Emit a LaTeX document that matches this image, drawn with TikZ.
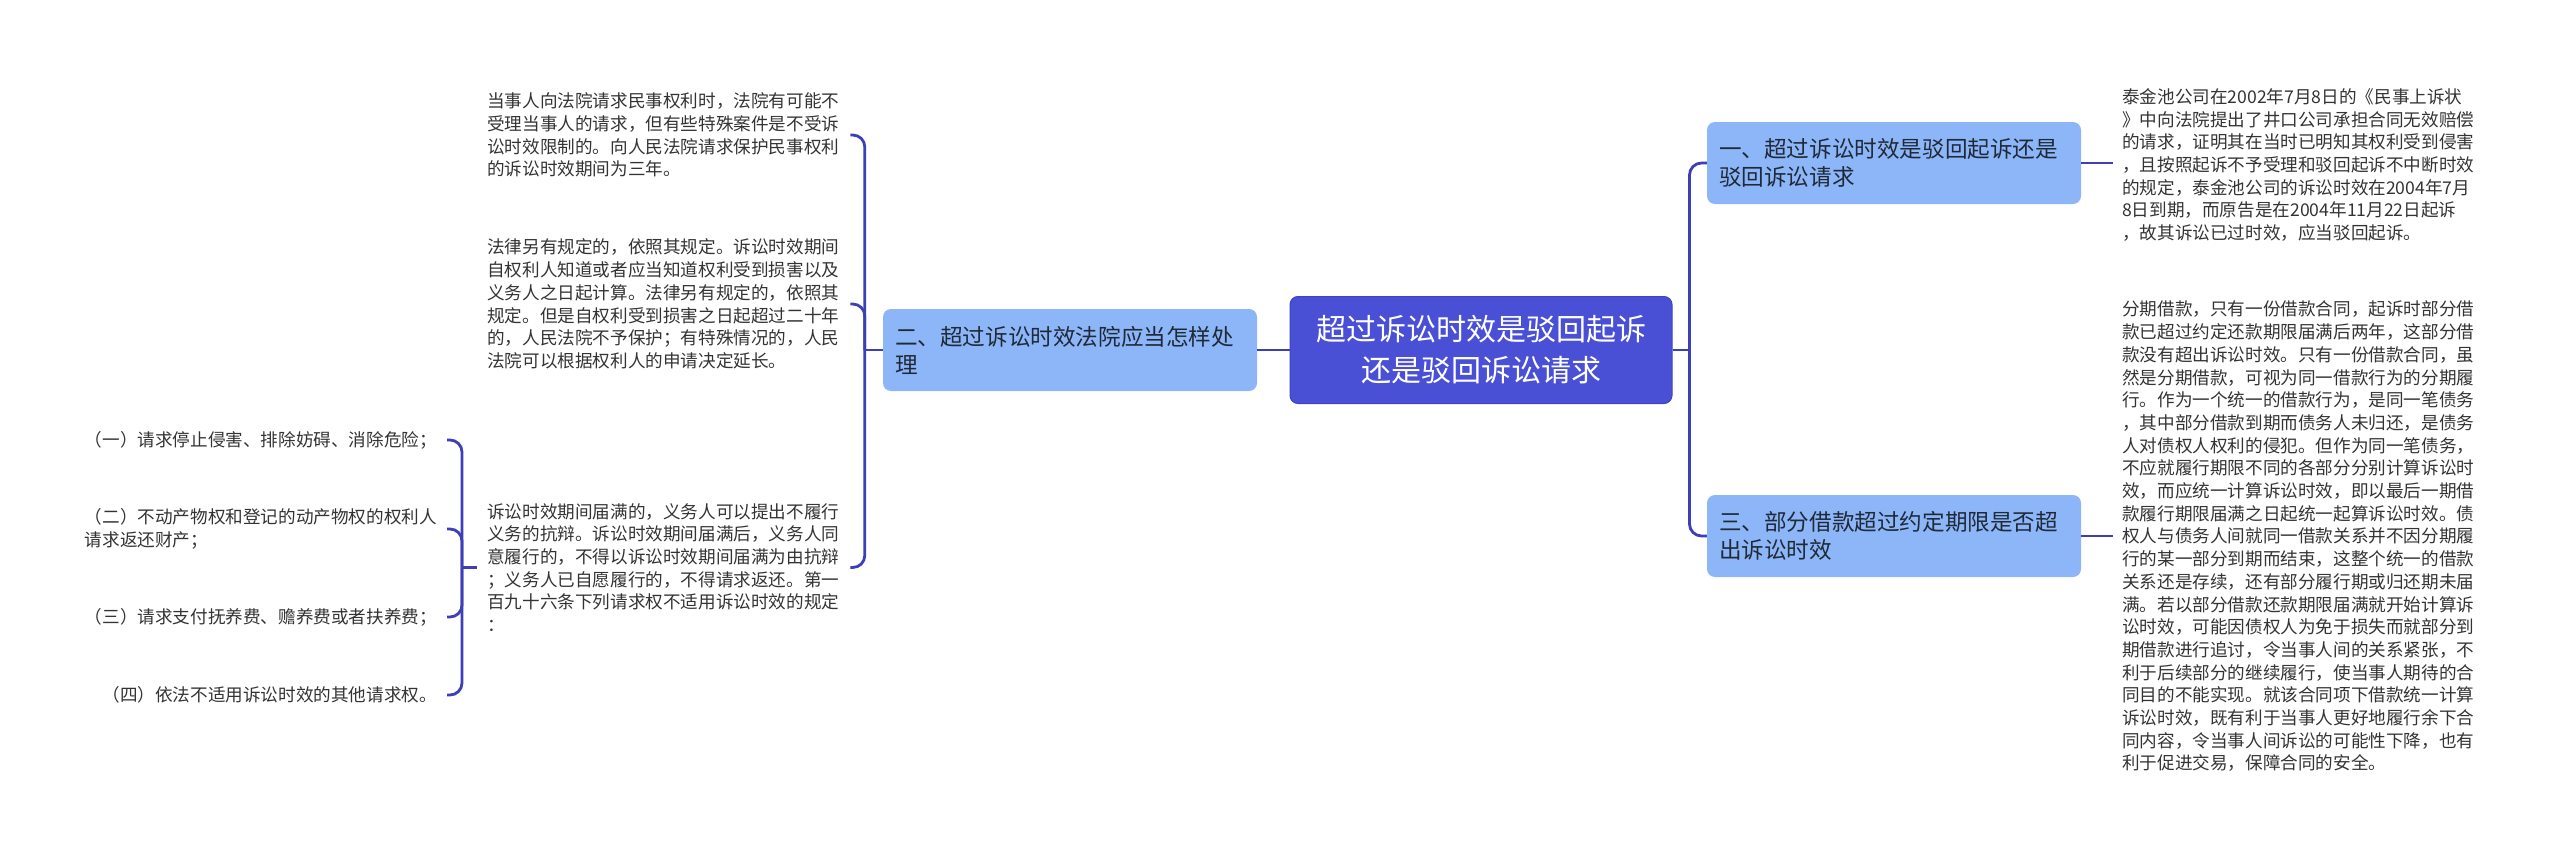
\documentclass[tikz,border=0pt]{standalone}
\usepackage{fontspec}
\setmainfont{Noto Sans CJK SC}
\definecolor{rootfill}{HTML}{4A50D6}
\definecolor{rootdraw}{HTML}{3F44C4}
\definecolor{branchfill}{HTML}{8DB6F9}
\definecolor{linecol}{HTML}{3C3FB5}
\definecolor{textcol}{HTML}{333333}
\definecolor{btext}{HTML}{1F2937}
\tikzset{
  leaf/.style={font=\fontsize{17.6pt}{22.7pt}\selectfont, align=left, inner sep=0pt, text=textcol},
  branch/.style={font=\fontsize{22.6pt}{28pt}\selectfont, align=left, text width=350pt, inner xsep=12pt, inner ysep=0pt, minimum height=82pt, fill=branchfill, rounded corners=8pt, text=btext},
  rootbox/.style={font=\fontsize{30pt}{41pt}\selectfont, align=center, text width=330pt, inner xsep=26pt, inner ysep=0pt, minimum height=107pt, fill=rootfill, draw=rootdraw, line width=1pt, rounded corners=8pt, text=white},
  conn/.style={draw=linecol, line width=2.8pt, rounded corners=12pt}
}
\begin{document}
\begin{tikzpicture}[x=1pt,y=-1pt]
\useasboundingbox (0,0) rectangle (2560,859);

% root and branches
\node[rootbox] (root) at (1481,350) {超过诉讼时效是驳回起诉\\还是驳回诉讼请求};
\node[branch] (bA) at (1894,163) {一、超过诉讼时效是驳回起诉还是\\驳回诉讼请求};
\node[branch] (bB) at (1070,350) {二、超过诉讼时效法院应当怎样处\\理};
\node[branch] (bC) at (1894,536) {三、部分借款超过约定期限是否超\\出诉讼时效};

% right texts
\node[leaf, anchor=west] (tA1) at (2122,165) {泰金池公司在2002年7月8日的《民事上诉状\\》中向法院提出了井口公司承担合同无效赔偿\\的请求，证明其在当时已明知其权利受到侵害\\，且按照起诉不予受理和驳回起诉不中断时效\\的规定，泰金池公司的诉讼时效在2004年7月\\8日到期，而原告是在2004年11月22日起诉\\，故其诉讼已过时效，应当驳回起诉。};
\node[leaf, anchor=west] (tA2) at (2122,536.5) {分期借款，只有一份借款合同，起诉时部分借\\款已超过约定还款期限届满后两年，这部分借\\款没有超出诉讼时效。只有一份借款合同，虽\\然是分期借款，可视为同一借款行为的分期履\\行。作为一个统一的借款行为，是同一笔债务\\，其中部分借款到期而债务人未归还，是债务\\人对债权人权利的侵犯。但作为同一笔债务，\\不应就履行期限不同的各部分分别计算诉讼时\\效，而应统一计算诉讼时效，即以最后一期借\\款履行期限届满之日起统一起算诉讼时效。债\\权人与债务人间就同一借款关系并不因分期履\\行的某一部分到期而结束，这整个统一的借款\\关系还是存续，还有部分履行期或归还期未届\\满。若以部分借款还款期限届满就开始计算诉\\讼时效，可能因债权人为免于损失而就部分到\\期借款进行追讨，令当事人间的关系紧张，不\\利于后续部分的继续履行，使当事人期待的合\\同目的不能实现。就该合同项下借款统一计算\\诉讼时效，既有利于当事人更好地履行余下合\\同内容，令当事人间诉讼的可能性下降，也有\\利于促进交易，保障合同的安全。};

% middle-left texts
\node[leaf, anchor=west] (tB1) at (487,135) {当事人向法院请求民事权利时，法院有可能不\\受理当事人的请求，但有些特殊案件是不受诉\\讼时效限制的。向人民法院请求保护民事权利\\的诉讼时效期间为三年。};
\node[leaf, anchor=west] (tB2) at (487,304) {法律另有规定的，依照其规定。诉讼时效期间\\自权利人知道或者应当知道权利受到损害以及\\义务人之日起计算。法律另有规定的，依照其\\规定。但是自权利受到损害之日起超过二十年\\的，人民法院不予保护；有特殊情况的，人民\\法院可以根据权利人的申请决定延长。};
\node[leaf, anchor=west] (tB3) at (487,567.5) {诉讼时效期间届满的，义务人可以提出不履行\\义务的抗辩。诉讼时效期间届满后，义务人同\\意履行的，不得以诉讼时效期间届满为由抗辩\\；义务人已自愿履行的，不得请求返还。第一\\百九十六条下列请求权不适用诉讼时效的规定\\：};

% far-left items
\node[leaf, anchor=east] (q1) at (437,440) {（一）请求停止侵害、排除妨碍、消除危险；};
\node[leaf, anchor=east] (q2) at (437,529) {（二）不动产物权和登记的动产物权的权利人\\请求返还财产；};
\node[leaf, anchor=east] (q3) at (437,617) {（三）请求支付抚养费、赡养费或者扶养费；};
\node[leaf, anchor=east] (q4) at (437,695) {（四）依法不适用诉讼时效的其他请求权。};

% connectors: root
\draw[conn] (root.west) -- (bB.east);
\coordinate (rj) at ([xshift=17pt]root.east);
\draw[conn] (root.east) -- (rj);
\draw[conn] (rj) |- (bA.west);
\draw[conn] (rj) |- (bC.west);

% branch A / C to texts
\draw[conn] (bA.east) -- ([xshift=-9pt]bA.east -| tA1.west);
\draw[conn] (bC.east) -- ([xshift=-9pt]bC.east -| tA2.west);

% branch B to its texts
\coordinate (bj) at ([xshift=-18pt]bB.west);
\draw[conn] (bB.west) -- (bj);
\draw[conn] (bj) |- ([xshift=11pt]tB1.east);
\draw[conn] (bj) |- ([xshift=11pt]tB2.east);
\draw[conn] (bj) |- ([xshift=11pt]tB3.east);

% tB3 to items
\coordinate (cs) at ([xshift=-10pt]tB3.west);
\coordinate (cj) at ([xshift=-25pt]tB3.west);
\draw[conn] (cs) -- (cj);
\draw[conn] (cj) |- ([xshift=10pt]q1.east);
\draw[conn] (cj) |- ([xshift=10pt]q2.east);
\draw[conn] (cj) |- ([xshift=10pt]q3.east);
\draw[conn] (cj) |- ([xshift=10pt]q4.east);
\end{tikzpicture}
\end{document}
